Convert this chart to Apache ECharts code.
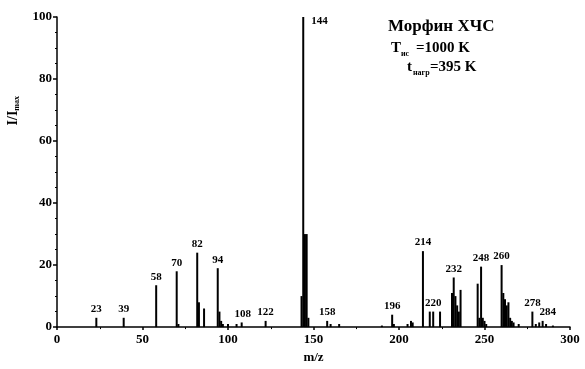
<!DOCTYPE html>
<html>
<head>
<meta charset="utf-8">
<script src="https://cdn.jsdelivr.net/npm/echarts@6/dist/echarts.min.js"></script>
<style>
html,body{margin:0;padding:0;background:#fff}
#chart{width:585px;height:369px}
</style>
</head>
<body>
<div id="chart"></div>
<script>
// m/z of peaks and relative intensities
var mz=[23,39,58,70,71,82,83,86,94,95,96,97,100,105,108,122,143,144,145,146,147,158,160,165,190,196,197,205,207,208,214,218,220,224,231,232,233,234,235,236,246,247,248,249,250,251,260,261,262,263,264,265,266,267,270,278,280,282,284,286,290]
var inten=[3,3,13.5,18,1,24,8,6,19,5,2,1,1,1,1.5,2,10,100,30,30,3,2,1,1,0.5,4,1,1,2,1.5,24.5,5,5,5,11,16,10,7,5,12,14,3,19.5,3,2,1,20,11,9,7,8,3,2,1.5,1,5,1,1.5,2,1,0.5]
// peaks that carry a number
var labelled=[23,39,58,70,82,94,108,122,144,158,196,214,220,232,248,260,278,284]

var font='"Liberation Serif","DejaVu Serif",serif'
var pts=[]
for(var i=0;i<mz.length;i++){
	var it={value:[mz[i],inten[i]]}
	if(labelled.indexOf(mz[i])>=0){
		it.label={show:true,position:'top',distance:3,formatter:String(mz[i])}
		if(mz[i]==144){it.label.position='insideTopLeft';it.label.offset=[6,-4]}
		if(mz[i]==284){it.label.offset=[5,0]}
		if(mz[i]==108){it.label.offset=[1,0]}
	}
	pts.push(it)
}

function txt(x,y,s,size){
	return {type:'text',left:x,top:y,style:{text:s,fontFamily:font,fontSize:size,fontWeight:'bold',fill:'#000'}}
}

var mychart=echarts.init(document.getElementById('chart'))
var option={
	animation:false,
	grid:{left:57,right:15,top:17,bottom:41},
	graphic:[
		txt(388,18,'Морфин ХЧС',17),
		txt(391,41,'T',15),
		txt(401,50,'ис',8),
		txt(416,41,'=1000 K',15),
		txt(407,60,'t',15),
		txt(413,69,'нагр',8),
		txt(430,60,'=395 K',15),
		{type:'group',left:6,top:96,children:[
			{type:'text',rotation:Math.PI/2,x:0,y:0,
			 style:{text:'{a|I/I}{s|max}',rich:{
				a:{fontFamily:font,fontSize:14,fontWeight:'bold',fill:'#000'},
				s:{fontFamily:font,fontSize:8,fontWeight:'bold',fill:'#000',padding:[8,0,0,0]}
			 }}}
		]}
	],
	xAxis:{
		type:'value',min:0,max:300,interval:50,
		name:'m/z',nameLocation:'middle',nameGap:21,
		nameTextStyle:{fontFamily:font,fontSize:13,fontWeight:'bold',color:'#000'},
		axisLine:{lineStyle:{color:'#000',width:1.5}},
		axisTick:{length:3,lineStyle:{color:'#000',width:1.5}},
		minorTick:{show:true,splitNumber:2,length:2,lineStyle:{color:'#000'}},
		axisLabel:{fontFamily:font,fontSize:13,fontWeight:'bold',color:'#000',margin:6},
		splitLine:{show:false}
	},
	yAxis:{
		type:'value',min:0,max:100,interval:20,
		axisLine:{show:true,lineStyle:{color:'#000',width:1.5}},
		axisTick:{show:true,length:4,lineStyle:{color:'#000',width:1.5}},
		minorTick:{show:true,splitNumber:4,length:2,lineStyle:{color:'#000'}},
		axisLabel:{fontFamily:font,fontSize:13,fontWeight:'bold',color:'#000',margin:5},
		splitLine:{show:false}
	},
	series:[{
		type:'bar',
		barWidth:2,
		itemStyle:{color:'#000'},
		label:{fontFamily:font,fontSize:11,fontWeight:'bold',color:'#000'},
		data:pts
	}]
}
mychart.setOption(option)
</script>
</body>
</html>
